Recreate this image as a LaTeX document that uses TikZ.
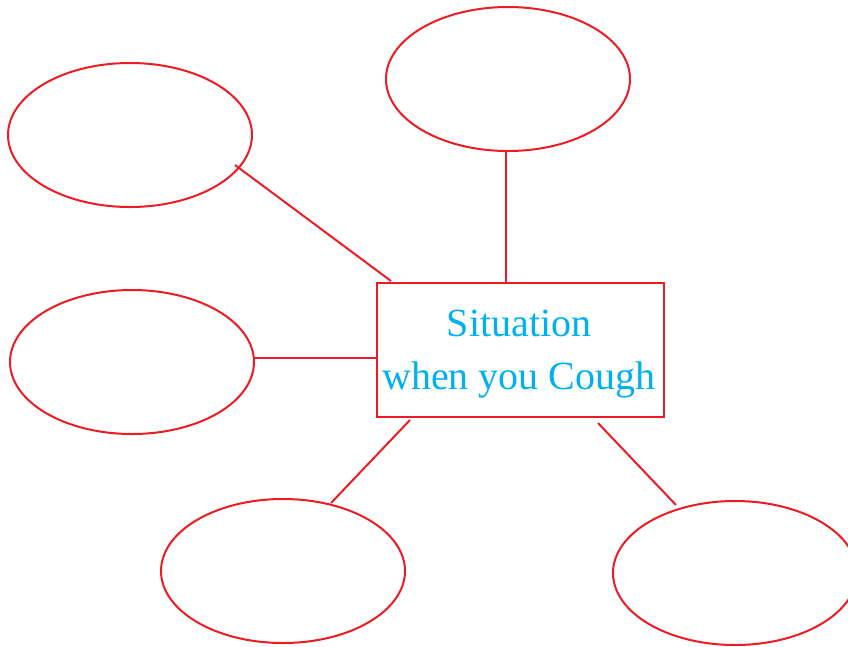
\documentclass[tikz,border=0pt]{standalone}
\usepackage{fontspec}
\setmainfont{Liberation Serif}
\usetikzlibrary{shapes.geometric}
\definecolor{lred}{RGB}{237,28,36}
\definecolor{lblue}{RGB}{0,176,240}
\tikzset{
  bubble/.style={draw=lred, line width=2pt, ellipse, minimum width=244pt, minimum height=144pt, inner sep=0pt},
  mainbox/.style={draw=lred, line width=2pt, rectangle, minimum width=287pt, minimum height=134pt, inner sep=0pt},
  link/.style={draw=lred, line width=2pt},
  title/.style={text=lblue, font=\fontsize{40}{53}\selectfont, align=center, inner sep=0pt}
}
\begin{document}
\begin{tikzpicture}[x=1pt,y=-1pt]
\useasboundingbox (0,0) rectangle (848,646);
\node[bubble] (e1) at (130,135) {};
\node[bubble] (e2) at (508,79) {};
\node[bubble] (e3) at (132,362) {};
\node[bubble] (e4) at (283,571) {};
\node[bubble] (e5) at (735,573) {};
\node[mainbox] (box) at (520.5,350) {};
\node[title] (txt) at (519,354) {Situation\\when you Cough};
\coordinate (a1) at (235,165);
\coordinate (b1) at (391,281);
\coordinate (a2) at (506,151);
\coordinate (b2) at (506,283);
\coordinate (a3) at (254,358);
\coordinate (b3) at (377,358);
\coordinate (a4) at (331,503);
\coordinate (b4) at (410,420);
\coordinate (a5) at (676,505);
\coordinate (b5) at (598,423);
\draw[link] (a1) -- (b1);
\draw[link] (a2) -- (b2);
\draw[link] (a3) -- (b3);
\draw[link] (a4) -- (b4);
\draw[link] (a5) -- (b5);
\end{tikzpicture}
\end{document}
